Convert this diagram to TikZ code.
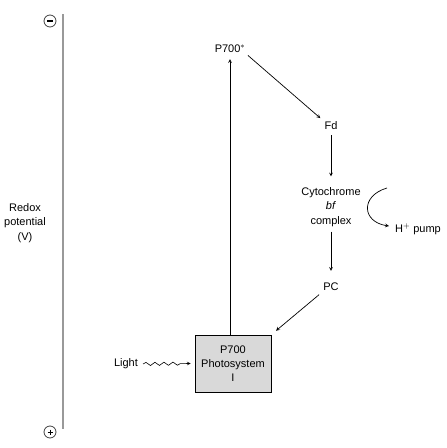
\documentclass[tikz,border=0pt]{standalone}
\usepackage{fontspec}
\setmainfont{Liberation Sans}
\usetikzlibrary{decorations.pathmorphing}

\tikzset{
  lbl/.style={font=\fontsize{11}{14.2}\selectfont, align=center, inner sep=1pt},
  flow/.style={->, line width=0.7pt},
  sign/.style={circle, draw=black!75, line width=0.8pt, minimum size=12pt, inner sep=0pt},
}

\begin{document}
\begin{tikzpicture}[x=1pt, y=-1pt, >=stealth]
  \useasboundingbox (0,0) rectangle (447,448);

  % Redox axis
  \draw[black!40, line width=1.3pt] (63,14) -- (63,429);
  \node[sign] (minus) at (50,21) {};
  \draw[line width=1.1pt] (47,21) -- (53,21);
  \node[sign] (plus) at (50,432) {};
  \draw[line width=0.9pt] (47.5,432) -- (52.5,432) (50,429.5) -- (50,434.5);
  \node[lbl] (redox) at (25,223) {Redox\\potential\\(V)};

  % Photosystem I and carriers
  \node[lbl, draw, fill=black!15, line width=0.8pt, minimum width=76pt, minimum height=57pt]
      (ps) at (233,363.5) {P700\\Photosystem\\I};
  \node[lbl] (p700s) at (230,49) {P700$^{*}$};
  \node[lbl] (fd) at (331,126) {Fd};
  \node[lbl] (cyt) at (331,207) {Cytochrome\\\textit{bf}\\complex};
  \node[lbl] (pc) at (331,287) {PC};
  \node[lbl] (light) at (126,364) {Light};
  \node[lbl] (hpump) at (418,229) {H$^{+}$ pump};

  % Electron flow
  \draw[flow, shorten >=5pt] (ps.north -| p700s) -- (p700s.south);
  \draw[flow, shorten <=2pt, shorten >=4pt] (p700s.south east) -- (fd.north west);
  \draw[flow, shorten <=4pt, shorten >=10pt] (fd.south) -- (cyt.north);
  \draw[flow, shorten <=4pt, shorten >=11pt] (cyt.south) -- (pc.north);
  \draw[flow, shorten <=4pt, shorten >=6pt] (pc.south west) -- (ps.north east);
  \draw[->, line width=0.6pt, decorate,
        decoration={snake, amplitude=1.6pt, segment length=9pt, post length=6pt}]
      ([xshift=4pt]light.east) -- ([xshift=-4pt]ps.west);

  % Proton pumping
  \coordinate (cs) at (387,188);
  \coordinate (ce) at (389,226);
  \draw[flow] (cs) .. controls (360,196) and (362,222) .. (ce);
\end{tikzpicture}
\end{document}
